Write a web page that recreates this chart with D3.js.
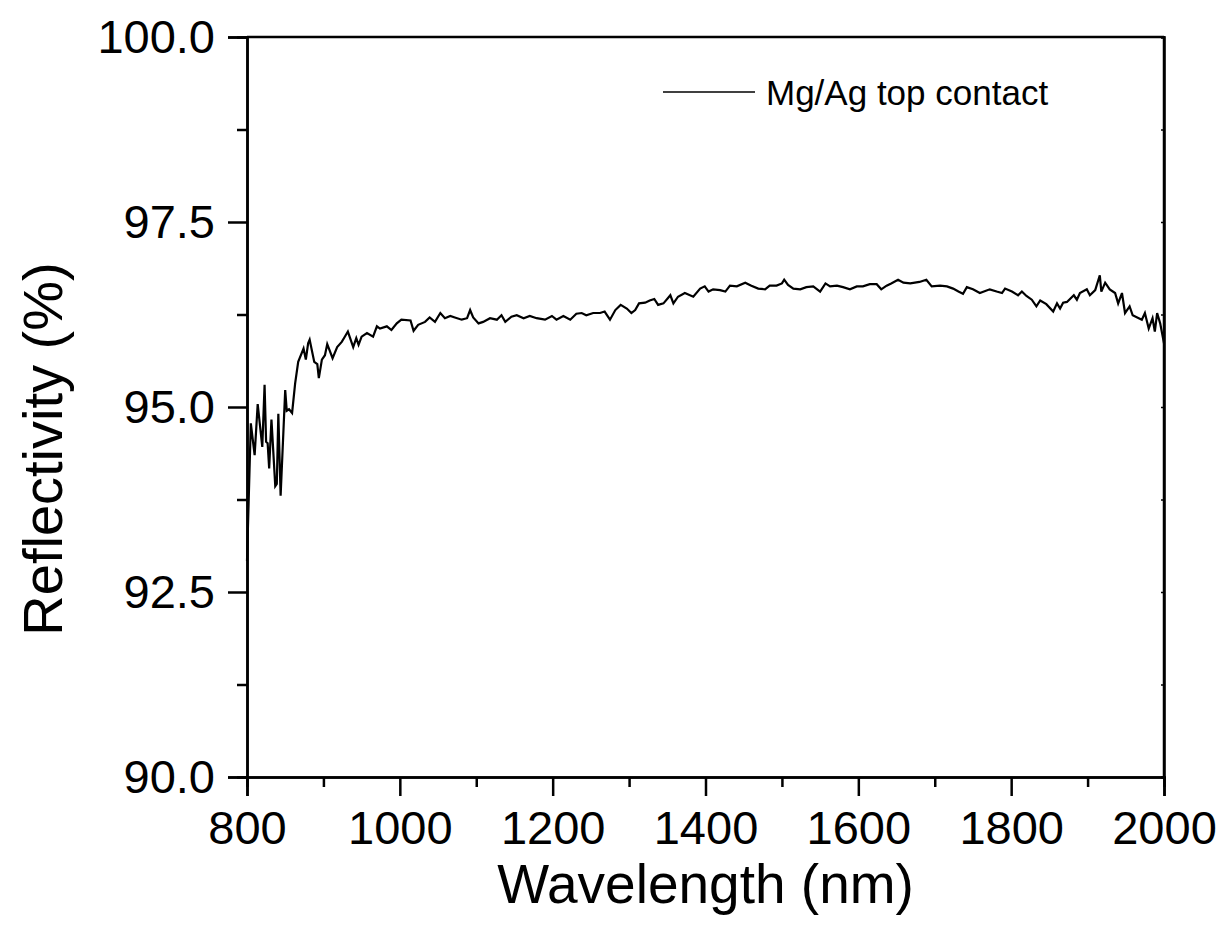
<!DOCTYPE html>
<html>
<head>
<meta charset="utf-8">
<script src="https://cdn.jsdelivr.net/npm/d3@7"></script>
<style>
  body { margin: 0; background: #fff; }
  svg { display: block; font-family: "Liberation Sans", Arial, sans-serif; }
</style>
</head>
<body>
<svg id="vis" width="1225" height="951"></svg>
<script>
// wavelength (nm)
var wavelength = [
  800, 805, 810, 814, 820, 823, 825, 827, 829, 832, 837, 839, 841, 844, 850, 852, 855, 859,
  863, 867, 874, 877, 880, 882, 888, 892, 894, 898, 902, 905, 912, 918, 924, 928, 932, 939,
  943, 946, 950, 957, 965, 970, 974, 983, 989, 996, 1002, 1014, 1018, 1024, 1033,
  1039, 1046, 1053, 1059, 1066, 1072, 1081, 1088, 1092, 1096, 1103, 1109, 1118, 1127, 1133,
  1138, 1146, 1153, 1162, 1170, 1179, 1190, 1199, 1205, 1214, 1223, 1231, 1238, 1244, 1253,
  1262, 1268, 1275, 1282, 1289, 1297, 1303, 1308, 1313, 1321, 1327, 1333, 1338, 1345, 1354,
  1358, 1364, 1373, 1384, 1393, 1399, 1404, 1410, 1419, 1426, 1432, 1441, 1452, 1460, 1469,
  1478, 1484, 1493, 1500, 1503, 1508, 1515, 1524, 1532, 1541, 1550, 1557, 1563, 1572, 1580,
  1589, 1598, 1606, 1615, 1624, 1630, 1637, 1643, 1652, 1659, 1668, 1680,
  1689, 1696, 1707, 1716, 1724, 1731, 1737, 1742, 1750, 1759, 1772, 1781, 1788, 1792, 1801,
  1809, 1814, 1820, 1827, 1833, 1838, 1846, 1855, 1860, 1864, 1868, 1873, 1882, 1886, 1890,
  1899, 1903, 1910, 1916, 1918, 1923, 1929, 1936, 1940, 1945, 1949, 1955, 1959, 1965, 1971,
  1975, 1980, 1985, 1988, 1991, 1995, 2000
];

// reflectivity (%) for each wavelength
var reflectivity = [
  92.92, 94.78, 94.35, 95.04, 94.46, 95.30, 94.53, 94.51, 94.17, 94.83, 93.93, 93.96, 94.91, 93.80, 95.23, 94.95, 94.97, 94.92,
  95.32, 95.61, 95.79, 95.64, 95.86, 95.91, 95.61, 95.58, 95.39, 95.64, 95.70, 95.85, 95.66, 95.81, 95.88, 95.95, 96.02, 95.81,
  95.93, 95.84, 95.95, 96.00, 95.95, 96.09, 96.06, 96.09, 96.04, 96.13, 96.18, 96.17, 96.03, 96.11, 96.15,
  96.21, 96.15, 96.27, 96.20, 96.23, 96.21, 96.18, 96.20, 96.31, 96.21, 96.13, 96.15, 96.20, 96.18, 96.24,
  96.15, 96.22, 96.24, 96.20, 96.23, 96.20, 96.18, 96.23, 96.18, 96.23, 96.18, 96.26, 96.27, 96.24, 96.27,
  96.27, 96.29, 96.18, 96.31, 96.38, 96.33, 96.27, 96.31, 96.40, 96.41, 96.44, 96.46, 96.38, 96.40, 96.51,
  96.40, 96.49, 96.54, 96.49, 96.60, 96.63, 96.56, 96.59, 96.58, 96.56, 96.64, 96.63, 96.68, 96.64, 96.60,
  96.59, 96.64, 96.64, 96.67, 96.72, 96.65, 96.60, 96.59, 96.62, 96.63, 96.56, 96.67, 96.63, 96.64, 96.62,
  96.59, 96.63, 96.63, 96.66, 96.66, 96.59, 96.64, 96.67, 96.72, 96.68, 96.67, 96.69,
  96.72, 96.63, 96.64, 96.63, 96.60, 96.56, 96.53, 96.62, 96.59, 96.54, 96.59, 96.56, 96.54, 96.60, 96.56,
  96.51, 96.56, 96.50, 96.45, 96.36, 96.44, 96.39, 96.29, 96.40, 96.33, 96.41, 96.42, 96.51, 96.45, 96.54,
  96.59, 96.51, 96.58, 96.78, 96.56, 96.68, 96.59, 96.54, 96.40, 96.54, 96.27, 96.36, 96.24, 96.21, 96.18,
  96.27, 96.06, 96.20, 96.02, 96.27, 96.13, 95.86
];

var xMajor = [800, 1000, 1200, 1400, 1600, 1800, 2000];
var xMinor = [900, 1100, 1300, 1500, 1700, 1900];
var yMajor = [90, 92.5, 95, 97.5, 100];
var yMinor = [91.25, 93.75, 96.25, 98.75];

var seriesName = "Mg/Ag top contact";

var plot = {l: 247, r: 1164, t: 37, b: 777};

var svg = d3.select('#vis');

var x = d3.scaleLinear().domain([800, 2000]).range([plot.l, plot.r]);
var y = d3.scaleLinear().domain([90, 100]).range([plot.b, plot.t]);

var fontFam = '"Liberation Sans", Arial, sans-serif';

// minor ticks first (no labels)
svg.append('g')
    .attr('transform', 'translate(0,' + plot.b + ')')
    .call(d3.axisBottom(x).tickValues(xMinor).tickSize(10).tickFormat(''))
    .call(styleAxis);

svg.append('g')
    .attr('transform', 'translate(' + plot.l + ',0)')
    .call(d3.axisLeft(y).tickValues(yMinor).tickSize(10).tickFormat(''))
    .call(styleAxis);

// major ticks with labels
var xAxis = svg.append('g')
    .attr('transform', 'translate(0,' + plot.b + ')')
    .call(d3.axisBottom(x).tickValues(xMajor).tickSize(19).tickPadding(15).tickFormat(d3.format('d')))
    .call(styleAxis);

xAxis.selectAll('text')
    .attr('font-size', 47)
    .attr('font-family', fontFam)
    .attr('fill', '#000');

var yAxis = svg.append('g')
    .attr('transform', 'translate(' + plot.l + ',0)')
    .call(d3.axisLeft(y).tickValues(yMajor).tickSize(19).tickPadding(13).tickFormat(d3.format('.1f')))
    .call(styleAxis);

yAxis.selectAll('text')
    .attr('font-size', 47)
    .attr('font-family', fontFam)
    .attr('fill', '#000');

// tiny inward ticks on the right axis
svg.append('g')
    .attr('transform', 'translate(' + plot.r + ',0)')
    .call(d3.axisLeft(y).tickValues(yMajor.concat(yMinor)).tickSize(3).tickFormat(''))
    .call(styleAxis)
    .selectAll('.tick line').attr('stroke-width', 1.5);

// top and right frame lines
svg.append('line')
    .attr('x1', plot.l).attr('x2', plot.r)
    .attr('y1', plot.t).attr('y2', plot.t)
    .attr('stroke', '#000').attr('stroke-width', 2.5);

svg.append('line')
    .attr('x1', plot.r).attr('x2', plot.r)
    .attr('y1', plot.t - 1).attr('y2', plot.b + 1)
    .attr('stroke', '#000').attr('stroke-width', 2.5);

function styleAxis(g) {
    g.select('.domain').attr('stroke', '#000').attr('stroke-width', 2.5);
    g.selectAll('.tick line').attr('stroke', '#000').attr('stroke-width', 2.5);
}

// the curve
var line = d3.line()
    .x(function (d, i) { return x(wavelength[i]); })
    .y(function (d) { return y(d); });

svg.append('path')
    .datum(reflectivity)
    .attr('d', line)
    .attr('fill', 'none')
    .attr('stroke', '#000')
    .attr('stroke-width', 2.2)
    .attr('stroke-linejoin', 'miter');

// legend
var legend = svg.append('g').attr('class', 'legend');
legend.append('line')
    .attr('x1', 663).attr('x2', 755)
    .attr('y1', 92).attr('y2', 92)
    .attr('stroke', '#000').attr('stroke-width', 1.5);
legend.append('text')
    .attr('x', 766).attr('y', 105)
    .attr('font-size', 35)
    .attr('font-family', fontFam)
    .text(seriesName);

// axis titles
svg.append('text')
    .attr('x', (plot.l + plot.r) / 2)
    .attr('y', 903)
    .attr('text-anchor', 'middle')
    .attr('font-size', 55)
    .attr('font-family', fontFam)
    .text('Wavelength (nm)');

svg.append('text')
    .attr('transform', 'translate(62,' + 449 + ') rotate(-90)')
    .attr('text-anchor', 'middle')
    .attr('font-size', 56)
    .attr('font-family', fontFam)
    .text('Reflectivity (%)');
</script>
</body>
</html>
